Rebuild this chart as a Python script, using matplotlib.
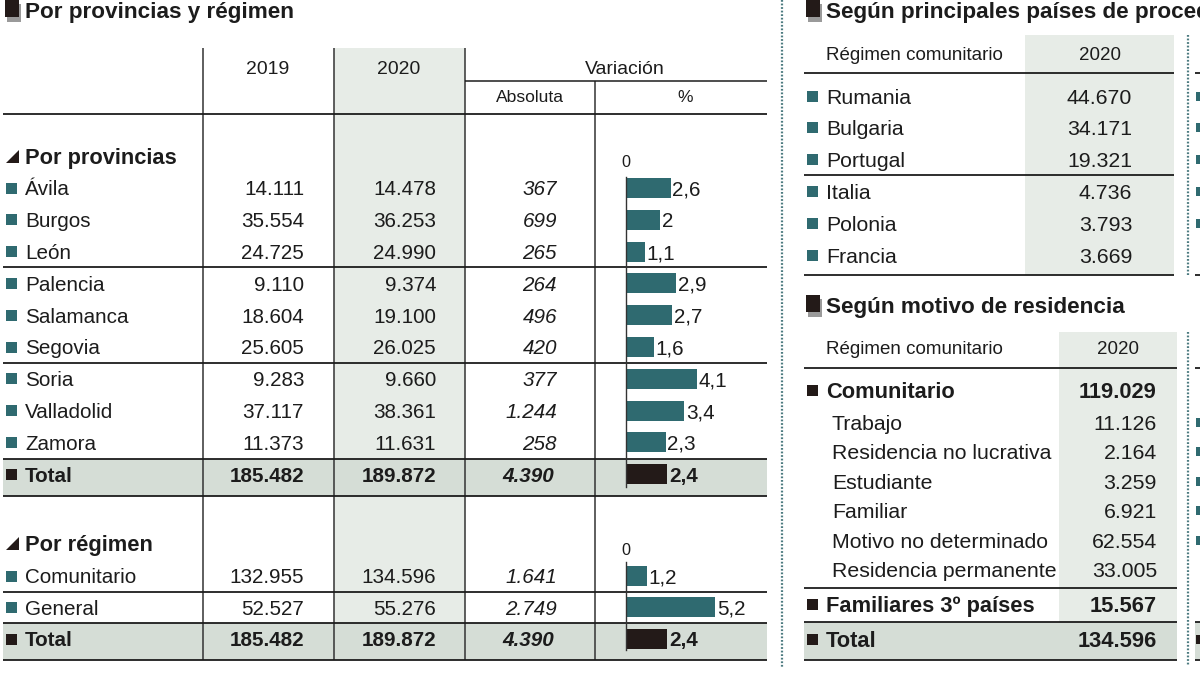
import matplotlib
matplotlib.use('Agg')
import numpy as np
import matplotlib.pyplot as plt
from matplotlib import font_manager
from matplotlib.patches import Rectangle, Polygon

# Datos: extranjeros residentes en Castilla y León
provincias = ['Ávila', 'Burgos', 'León', 'Palencia', 'Salamanca', 'Segovia',
              'Soria', 'Valladolid', 'Zamora']
prov_2019 = [14111, 35554, 24725, 9110, 18604, 25605, 9283, 37117, 11373]
prov_2020 = [14478, 36253, 24990, 9374, 19100, 26025, 9660, 38361, 11631]
prov_abs = [367, 699, 265, 264, 496, 420, 377, 1244, 258]
prov_pct = [2.6, 2.0, 1.1, 2.9, 2.7, 1.6, 4.1, 3.4, 2.3]

regimen = ['Comunitario', 'General']
reg_2019 = [132955, 52527]
reg_2020 = [134596, 55276]
reg_abs = [1641, 2749]
reg_pct = [1.2, 5.2]

total_2019, total_2020, total_abs, total_pct = 185482, 189872, 4390, 2.4

paises = ['Rumania', 'Bulgaria', 'Portugal', 'Italia', 'Polonia', 'Francia']
paises_2020 = [44670, 34171, 19321, 4736, 3793, 3669]

motivos = ['Trabajo', 'Residencia no lucrativa', 'Estudiante', 'Familiar',
           'Motivo no determinado', 'Residencia permanente']
motivos_2020 = [11126, 2164, 3259, 6921, 62554, 33005]
comunitario_2020 = 119029
familiares_2020 = 15567
motivo_total = 134596

# estilo (si no hay fuente estrecha, se reduce el cuerpo)
names = {f.name for f in font_manager.fontManager.ttflist}
narrow = 'Liberation Sans Narrow' in names
FONT = 'Liberation Sans Narrow' if narrow else 'Liberation Sans'
k = 1.0 if narrow else 0.9
plt.rcParams['font.family'] = [FONT, 'DejaVu Sans']

TEAL = '#2f6a70'
DARK = '#231a18'
INK = '#1c1c1c'
SHADE_COL = '#e7ece7'
SHADE_TOT = '#d5ddd6'
PX = 17.2  # pixeles por punto porcentual


def fmt_num(v):
    return f'{v:,}'.replace(',', '.')


def fmt_pct(p):
    return f'{p:g}'.replace('.', ',')


fig = plt.figure(figsize=(12, 6.75), dpi=100)
ax = fig.add_axes([0, 0, 1, 1])
ax.set_xlim(0, 1200)
ax.set_ylim(675, 0)
ax.axis('off')

# eje de barras superpuesto (x en %, cero en la columna de variación)
ZERO = 626
axb = fig.add_axes([0, 0, 1, 1])
axb.set_xlim(-ZERO / PX, (1200 - ZERO) / PX)
axb.set_ylim(675, 0)
axb.axis('off')
axb.patch.set_alpha(0)


def txt(x, y, s, size, ha='left', weight='normal', style='normal', color=INK, a=ax):
    size = size * k
    a.text(x, y + size * 0.5, s, fontsize=size, ha=ha, va='baseline',
           fontweight=weight, fontstyle=style, color=color)


def hline(y, x0, x1, lw=1.3, color=INK):
    ax.plot([x0, x1], [y, y], color=color, lw=lw, solid_capstyle='butt')


def vline(x, y0, y1, lw=1.1, color='#333333'):
    ax.plot([x, x], [y0, y1], color=color, lw=lw, solid_capstyle='butt')


def marker(x, y, color=TEAL, s=11):
    ax.add_patch(Rectangle((x, y - s / 2), s, s, color=color, lw=0))


def title_icon(x, y):
    ax.add_patch(Rectangle((x + 2, y - 6), 14, 18, color='#9a9a9a', lw=0))
    ax.add_patch(Rectangle((x, y - 10), 14, 17, color=DARK, lw=0))


def triangle(x, y):
    ax.add_patch(Polygon([(x, y + 7), (x + 13, y + 7), (x + 13, y - 6)],
                         closed=True, color=DARK, lw=0))


# ---------------- Tabla izquierda ----------------
title_icon(5, 10)
txt(25, 10, 'Por provincias y régimen', 18, weight='bold')

prov_y = 188 + 31.8 * np.arange(len(provincias))
tot1_y = 188 + 31.8 * len(provincias)
reg_y = 576 + 31.4 * np.arange(len(regimen))
tot2_y = 639

# sombreados
ax.add_patch(Rectangle((334, 48), 131, 612, color=SHADE_COL, lw=0))
ax.add_patch(Rectangle((3, 459), 764, 37, color=SHADE_TOT, lw=0))
ax.add_patch(Rectangle((3, 623), 764, 37, color=SHADE_TOT, lw=0))

# rejilla
for x in [203, 334, 465]:
    vline(x, 48, 660)
vline(595, 81, 660)
hline(81, 465, 767, lw=1.1)
hline(114, 3, 767)
for y in [267, 363, 459, 496, 592, 623, 660]:
    hline(y, 3, 767)

# cabecera
txt(268, 67, '2019', 15.5, ha='center')
txt(399, 67, '2020', 15.5, ha='center')
txt(625, 67, 'Variación', 15.5, ha='center')
txt(530, 96, 'Absoluta', 14, ha='center')
txt(685, 96, '%', 14, ha='center')

# por provincias
triangle(6, 156)
txt(25, 156, 'Por provincias', 17.5, weight='bold')
for name, y, a, b, d in zip(provincias, prov_y, prov_2019, prov_2020, prov_abs):
    marker(6, y)
    txt(25, y, name, 16.5)
    txt(304, y, fmt_num(a), 16.5, ha='right')
    txt(436, y, fmt_num(b), 16.5, ha='right')
    txt(557, y, fmt_num(d), 16.5, ha='right', style='italic')
marker(6, tot1_y, color=DARK)
txt(25, tot1_y, 'Total', 16.5, weight='bold')
txt(304, tot1_y, fmt_num(total_2019), 16.5, ha='right', weight='bold')
txt(436, tot1_y, fmt_num(total_2020), 16.5, ha='right', weight='bold')
txt(554, tot1_y, fmt_num(total_abs), 16.5, ha='right', weight='bold', style='italic')

# por régimen
triangle(6, 543)
txt(25, 543, 'Por régimen', 17.5, weight='bold')
for name, y, a, b, d in zip(regimen, reg_y, reg_2019, reg_2020, reg_abs):
    marker(6, y)
    txt(25, y, name, 16.5)
    txt(304, y, fmt_num(a), 16.5, ha='right')
    txt(436, y, fmt_num(b), 16.5, ha='right')
    txt(557, y, fmt_num(d), 16.5, ha='right', style='italic')
marker(6, tot2_y, color=DARK)
txt(25, tot2_y, 'Total', 16.5, weight='bold')
txt(304, tot2_y, fmt_num(total_2019), 16.5, ha='right', weight='bold')
txt(436, tot2_y, fmt_num(total_2020), 16.5, ha='right', weight='bold')
txt(554, tot2_y, fmt_num(total_abs), 16.5, ha='right', weight='bold', style='italic')

# barras de variación %
axb.barh(prov_y, prov_pct, height=20, left=0, color=TEAL)
axb.barh([tot1_y], [total_pct], height=20, left=0, color=DARK)
axb.barh(reg_y, reg_pct, height=20, left=0, color=TEAL)
axb.barh([tot2_y], [total_pct], height=20, left=0, color=DARK)
axb.plot([0, 0], [177, 487], color='#333333', lw=1.0)
axb.plot([0, 0], [562, 650], color='#333333', lw=1.0)
for y, p in zip(prov_y, prov_pct):
    txt(p + 0.1, y, fmt_pct(p), 16.5, a=axb)
for y, p in zip(reg_y, reg_pct):
    txt(p + 0.1, y, fmt_pct(p), 16.5, a=axb)
for y in [tot1_y, tot2_y]:
    txt(total_pct + 0.1, y, fmt_pct(total_pct), 16.5, weight='bold', a=axb)
txt(0, 161, '0', 13, ha='center', a=axb)
txt(0, 549, '0', 13, ha='center', a=axb)

# ---------------- Panel derecho ----------------
DOT = '#4d7b80'
ax.plot([782, 782], [0, 668], color=DOT, lw=1.6, linestyle=(0, (0.8, 0.8)))

# países de procedencia
title_icon(806, 10)
txt(826, 10, 'Según principales países de procedencia', 18, weight='bold')
ax.add_patch(Rectangle((1025, 35), 149, 240, color=SHADE_COL, lw=0))
txt(826, 53, 'Régimen comunitario', 15)
txt(1100, 53, '2020', 15, ha='center')
hline(73, 804, 1174)
hline(175, 804, 1174)
hline(275, 804, 1174)
pais_y = 96 + 31.8 * np.arange(len(paises))
for name, y, v in zip(paises, pais_y, paises_2020):
    marker(807, y)
    txt(826, y, name, 17)
    txt(1132, y, fmt_num(v), 17, ha='right')

# motivo de residencia
title_icon(806, 305)
txt(826, 305, 'Según motivo de residencia', 18, weight='bold')
ax.add_patch(Rectangle((1059, 332), 118, 290, color=SHADE_COL, lw=0))
ax.add_patch(Rectangle((804, 622), 373, 38, color=SHADE_TOT, lw=0))
txt(826, 347, 'Régimen comunitario', 15)
txt(1118, 347, '2020', 15, ha='center')
hline(368, 804, 1177)
hline(588, 804, 1177)
hline(622, 804, 1177)
hline(660, 804, 1177)

marker(807, 390, color=DARK)
txt(826, 390, 'Comunitario', 17.5, weight='bold')
txt(1157, 390, fmt_num(comunitario_2020), 17.5, ha='right', weight='bold')
mot_y = 422 + 29.5 * np.arange(len(motivos))
for name, y, v in zip(motivos, mot_y, motivos_2020):
    txt(832, y, name, 17)
    txt(1157, y, fmt_num(v), 17, ha='right')
marker(807, 604, color=DARK)
txt(826, 604, 'Familiares 3º países', 17.5, weight='bold')
txt(1157, 604, fmt_num(familiares_2020), 17.5, ha='right', weight='bold')
marker(807, 639, color=DARK)
txt(826, 639, 'Total', 17.5, weight='bold')
txt(1157, 639, fmt_num(motivo_total), 17.5, ha='right', weight='bold')

# columna siguiente (recortada en el borde)
ax.plot([1188, 1188], [35, 275], color=DOT, lw=1.6, linestyle=(0, (0.8, 0.8)))
ax.plot([1188, 1188], [332, 665], color=DOT, lw=1.6, linestyle=(0, (0.8, 0.8)))
hline(73, 1195, 1200)
hline(275, 1195, 1200)
hline(368, 1195, 1200)
hline(622, 1195, 1200)
hline(660, 1195, 1200)
for y in pais_y[:5]:
    marker(1196, y, s=9)
for y in mot_y[:5]:
    marker(1196, y, s=9)
ax.add_patch(Rectangle((1195, 622), 5, 38, color=SHADE_TOT, lw=0))
marker(1196, 639, color=DARK, s=9)

fig.savefig('out.png', dpi=100)
